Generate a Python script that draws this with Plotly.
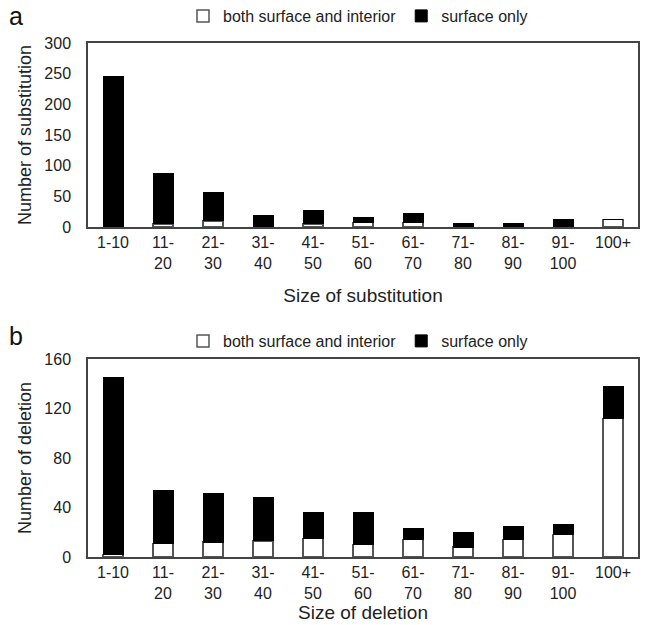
import plotly.graph_objects as go

categories = ["1-10", "11-<br>20", "21-<br>30", "31-<br>40", "41-<br>50", "51-<br>60",
              "61-<br>70", "71-<br>80", "81-<br>90", "91-<br>100", "100+"]

# Panel a: substitutions
sub_both = [0, 5, 10, 0, 5, 7, 7, 0, 0, 0, 12]
sub_surface = [246, 83, 46, 19, 22, 8, 15, 6, 6, 12, 0]

# Panel b: deletions
del_both = [2, 11, 12, 13, 15, 10, 14, 8, 14, 18, 112]
del_surface = [143, 43, 39, 35, 21, 26, 9, 12, 11, 8, 26]

FONT = "Liberation Sans, Arial, sans-serif"
W, H = 646, 625
ml, mr, mt, mb = 88, 8, 43, 68
ph = H - mt - mb
pw = W - ml - mr

def py(pix):  # pixel y -> paper y
    return (H - mb - pix) / ph

def px(pix):  # pixel x -> paper x
    return (pix - ml) / pw

fig = go.Figure()
white_style = dict(color="white", line=dict(color="#555555", width=1.5))
black_style = dict(color="black", line=dict(color="black", width=1))

fig.add_trace(go.Bar(x=categories, y=sub_both, name="both surface and interior",
                     marker=white_style, width=0.4, xaxis="x", yaxis="y", legend="legend"))
fig.add_trace(go.Bar(x=categories, y=sub_surface, name="surface only",
                     marker=black_style, width=0.4, xaxis="x", yaxis="y", legend="legend"))
fig.add_trace(go.Bar(x=categories, y=del_both, name="both surface and interior",
                     marker=white_style, width=0.4, xaxis="x2", yaxis="y2", legend="legend2"))
fig.add_trace(go.Bar(x=categories, y=del_surface, name="surface only",
                     marker=black_style, width=0.4, xaxis="x2", yaxis="y2", legend="legend2"))

axis_common = dict(showline=True, linecolor="#444444", linewidth=1.5, mirror=True,
                   showgrid=False, zeroline=False, automargin=False,
                   tickfont=dict(family=FONT, size=16, color="#222222"))

legend_common = dict(orientation="h", xanchor="center", yanchor="middle",
                     font=dict(family=FONT, size=16, color="#222222"),
                     bgcolor="rgba(0,0,0,0)", itemwidth=30, traceorder="normal")

fig.update_layout(
    width=W, height=H,
    margin=dict(l=ml, r=mr, t=mt, b=mb, autoexpand=False),
    paper_bgcolor="white", plot_bgcolor="white",
    barmode="stack",
    font=dict(family=FONT, color="#222222"),
    xaxis=dict(domain=[0, 1], anchor="y", ticks="", **axis_common,
               title=dict(text="Size of substitution", font=dict(family=FONT, size=19), standoff=18)),
    yaxis=dict(domain=[py(227), 1], anchor="x", range=[0, 300], dtick=50, ticks="",
               ticklabelstandoff=12, **axis_common,
               title=dict(text="Number of substitution", font=dict(family=FONT, size=18), standoff=8)),
    xaxis2=dict(domain=[0, 1], anchor="y2", ticks="", **axis_common,
                title=dict(text="Size of deletion", font=dict(family=FONT, size=19), standoff=0)),
    yaxis2=dict(domain=[0, py(359)], anchor="x2", range=[0, 160], dtick=40, ticks="",
                ticklabelstandoff=12, **axis_common,
                title=dict(text="Number of deletion", font=dict(family=FONT, size=18), standoff=8)),
    legend=dict(x=px(358), y=py(16), **legend_common),
    legend2=dict(x=px(358), y=py(341), **legend_common),
    annotations=[
        dict(text="a", xref="paper", yref="paper", x=px(7), y=py(0), xanchor="left",
             yanchor="top", showarrow=False, font=dict(family=FONT, size=25, color="#111111")),
        dict(text="b", xref="paper", yref="paper", x=px(7), y=py(320), xanchor="left",
             yanchor="top", showarrow=False, font=dict(family=FONT, size=25, color="#111111")),
    ],
)

fig.write_html("out.html", config={"displayModeBar": False},
               post_script="document.body.style.margin='0px';")
